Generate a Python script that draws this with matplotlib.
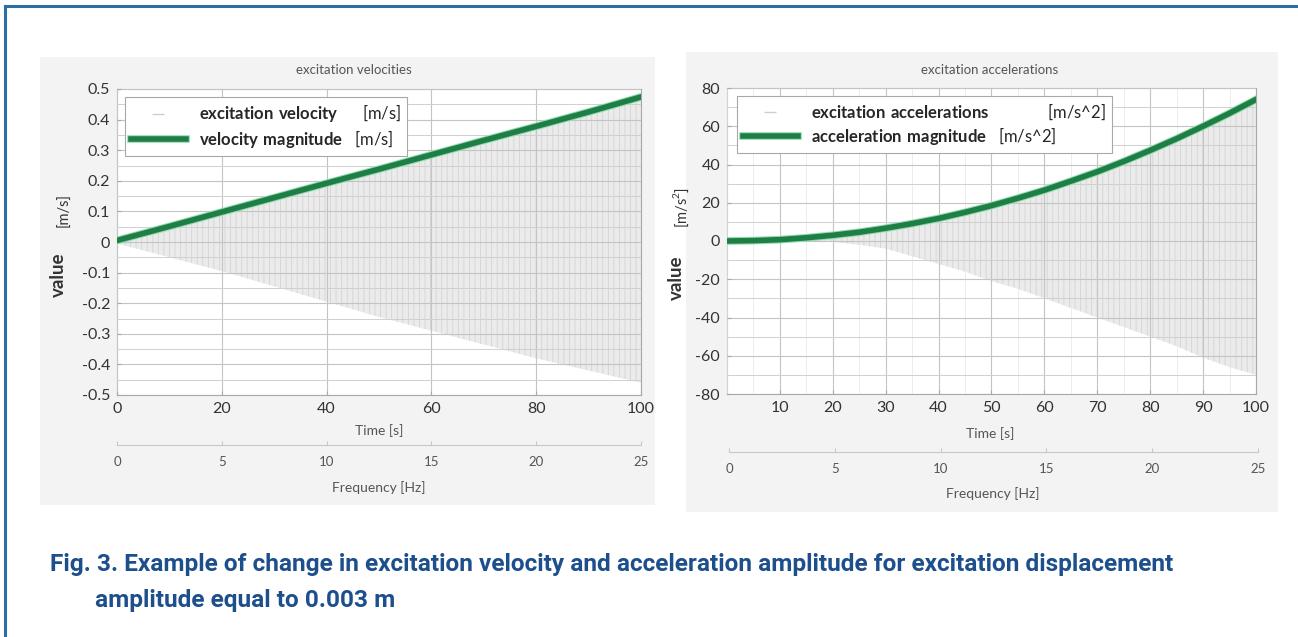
import matplotlib
matplotlib.use("Agg")
import matplotlib.pyplot as plt
import matplotlib.patheffects as pe
from matplotlib.lines import Line2D
from matplotlib.patches import Rectangle
from matplotlib.ticker import MultipleLocator, FixedLocator

plt.rcParams["font.family"] = ["Lato", "DejaVu Sans"]
plt.rcParams["axes.unicode_minus"] = False
plt.rcParams["hatch.linewidth"] = 0.6
plt.rcParams["mathtext.fontset"] = "custom"
plt.rcParams["mathtext.rm"] = "Lato"
plt.rcParams["mathtext.bf"] = "Lato:bold"

# values
time_vel = [0, 10, 20, 30, 40, 50, 60, 70, 80, 90, 100]
vel_magnitude = [0.005, 0.051, 0.098, 0.145, 0.192, 0.238, 0.285, 0.332, 0.378, 0.425, 0.474]
vel_lower = [-0.005, -0.05, -0.095, -0.145, -0.195, -0.245, -0.29, -0.335, -0.38, -0.42, -0.46]

time_acc = [0, 5, 10, 15, 20, 25, 30, 35, 40, 45, 50, 55, 60, 65, 70, 75, 80, 85, 90, 95, 100]
acc_magnitude = [0.0, 0.2, 0.7, 1.7, 3.0, 4.6, 6.7, 9.1, 11.8, 15.0, 18.5, 22.4, 26.6,
                 31.3, 36.2, 41.6, 47.4, 53.5, 60.0, 66.8, 74.0]
acc_lower = [0, 0, 0, 0, -0.5, -2, -4, -8, -12, -16, -21, -25, -30, -35, -40, -45,
             -50, -55, -61, -66, -70]

vel_ticks = [-0.5, -0.4, -0.3, -0.2, -0.1, 0, 0.1, 0.2, 0.3, 0.4, 0.5]
freq_ticks = [0, 5, 10, 15, 20, 25]

W, H = 1298, 637
GREEN = "#1f7d46"
GREEN_HALO = "#8fdcae"
TICK_COLOR = "#333333"

fig = plt.figure(figsize=(W / 100, H / 100), dpi=100)


def fx(x):
    return x / W


def fy(y):
    return 1 - y / H


# frame and grey picture panels
fig.add_artist(Line2D([fx(5), fx(5)], [0, fy(6)], color="#2e6da4", lw=2.2))
fig.add_artist(Line2D([fx(5), 1], [fy(6), fy(6)], color="#2e6da4", lw=2.2))
fig.add_artist(Rectangle((fx(40), fy(505)), (655 - 40) / W, (505 - 57) / H,
                         transform=fig.transFigure, facecolor="#f3f3f3",
                         edgecolor="none", zorder=-1))
fig.add_artist(Rectangle((fx(686), fy(512)), (1278 - 686) / W, (512 - 52) / H,
                         transform=fig.transFigure, facecolor="#f3f3f3",
                         edgecolor="none", zorder=-1))


def style_axes(ax):
    ax.set_facecolor("white")
    for s in ax.spines.values():
        s.set_color("#a8a8a8")
        s.set_linewidth(0.8)
    ax.grid(which="major", color="#c4c4c4", linewidth=0.8)
    ax.grid(which="minor", color="#d0d0d0", linewidth=0.7)
    ax.set_axisbelow(False)
    ax.tick_params(which="both", direction="in", length=3, colors="#a8a8a8",
                   labelcolor=TICK_COLOR, labelsize=11.5, pad=5)
    ax.tick_params(which="minor", length=0)


def freq_axis(left, y, width):
    fax = fig.add_axes([fx(left), fy(y), width / W, 0.0001])
    fax.patch.set_visible(False)
    for side in ("left", "right", "top"):
        fax.spines[side].set_visible(False)
    fax.spines["bottom"].set_color("#c8c8c8")
    fax.set_xlim(0, 25)
    fax.set_yticks([])
    fax.xaxis.set_major_locator(FixedLocator(freq_ticks))
    fax.tick_params(direction="in", length=3, colors="#c8c8c8",
                    labelcolor="#555555", labelsize=9.5, pad=8)
    return fax


def legend(ax, labels, x0):
    h1 = Line2D([], [], color="#cfcfcf", lw=0, marker="_", markersize=9)
    h2 = Line2D([], [], color=GREEN, lw=4,
                path_effects=[pe.Stroke(linewidth=5.5, foreground=GREEN_HALO), pe.Normal()])
    leg = ax.legend([h1, h2], labels, loc="upper left", bbox_to_anchor=(x0, 0.975),
                    borderaxespad=0, fontsize=12, fancybox=False, framealpha=1,
                    edgecolor="#a8a8a8", handlelength=3.3, labelspacing=0.2,
                    borderpad=0.35, handletextpad=0.8)
    leg.get_frame().set_linewidth(0.8)
    for t in leg.get_texts():
        t.set_color("#262626")


# left: velocities
ax1 = fig.add_axes([fx(117), fy(395), 524 / W, 306 / H])
style_axes(ax1)
ax1.fill_between(time_vel, vel_lower, vel_magnitude, facecolor="#ebebeb",
                 edgecolor="#d4d4d4", hatch="|||", linewidth=0, zorder=1)
ax1.plot(time_vel, vel_magnitude, color=GREEN, lw=4, zorder=3,
         path_effects=[pe.Stroke(linewidth=5.5, foreground=GREEN_HALO), pe.Normal()])
ax1.set_xlim(0, 100)
ax1.set_ylim(-0.5, 0.5)
ax1.xaxis.set_major_locator(MultipleLocator(20))
ax1.set_yticks(vel_ticks)
ax1.set_yticklabels([f"{v:g}" for v in vel_ticks])
ax1.yaxis.set_minor_locator(MultipleLocator(0.05))
legend(ax1, [r"$\mathbf{excitation\ velocity}$      [m/s]",
             r"$\mathbf{velocity\ magnitude}$   [m/s]"], 0.015)

# right: accelerations
ax2 = fig.add_axes([fx(727), fy(394), 529 / W, 306 / H])
style_axes(ax2)
ax2.fill_between(time_acc, acc_lower, acc_magnitude, facecolor="#ebebeb",
                 edgecolor="#d4d4d4", hatch="|||", linewidth=0, zorder=1)
ax2.plot(time_acc, acc_magnitude, color=GREEN, lw=4, zorder=3,
         path_effects=[pe.Stroke(linewidth=5.5, foreground=GREEN_HALO), pe.Normal()])
ax2.set_xlim(0, 100)
ax2.set_ylim(-80, 80)
ax2.xaxis.set_major_locator(FixedLocator(list(range(10, 101, 10))))
ax2.xaxis.set_minor_locator(MultipleLocator(5))
ax2.yaxis.set_major_locator(MultipleLocator(20))
ax2.yaxis.set_minor_locator(MultipleLocator(10))
ax2.tick_params(axis="x", which="minor", length=0)
ax2.grid(axis="x", which="minor", color="#e6e6e6", linewidth=0.5)
legend(ax2, [r"$\mathbf{excitation\ accelerations}$              [m/s^2]",
             r"$\mathbf{acceleration\ magnitude}$   [m/s^2]"], 0.019)

# frequency axes below
freq_axis(117, 445, 524)
freq_axis(729, 452, 529)

# titles and axis labels
fig.text(fx(354), fy(70), "excitation velocities", ha="center", va="center",
         fontsize=9.5, color="#555555")
fig.text(fx(990), fy(70), "excitation accelerations", ha="center", va="center",
         fontsize=9.5, color="#555555")
fig.text(fx(379), fy(431), "Time [s]", ha="center", va="center", fontsize=10, color="#555555")
fig.text(fx(990), fy(434), "Time [s]", ha="center", va="center", fontsize=10, color="#555555")
fig.text(fx(379), fy(488), "Frequency [Hz]", ha="center", va="center", fontsize=10,
         color="#555555")
fig.text(fx(993), fy(494), "Frequency [Hz]", ha="center", va="center", fontsize=10,
         color="#555555")

fig.text(fx(58), fy(275), "value", rotation=90, ha="center", va="center",
         fontsize=13.5, fontweight="bold", color="#333333")
fig.text(fx(64), fy(210), "[m/s]", rotation=90, ha="center", va="center",
         fontsize=10.5, color="#333333")
fig.text(fx(676), fy(278), "value", rotation=90, ha="center", va="center",
         fontsize=13.5, fontweight="bold", color="#333333")
fig.text(fx(681), fy(207), r"[m/s$^2$]", rotation=90, ha="center", va="center",
         fontsize=10.5, color="#333333")

# caption
cap_font = ["Roboto", "DejaVu Sans"]
fig.text(fx(50), fy(564), "Fig. 3. Example of change in excitation velocity and acceleration "
         "amplitude for excitation displacement", ha="left", va="center",
         fontsize=17.6, fontweight="bold", color="#1d4f8c", family=cap_font)
fig.text(fx(95), fy(601), "amplitude equal to 0.003 m", ha="left", va="center",
         fontsize=17.6, fontweight="bold", color="#1d4f8c", family=cap_font)

fig.savefig("out.png", dpi=100)
